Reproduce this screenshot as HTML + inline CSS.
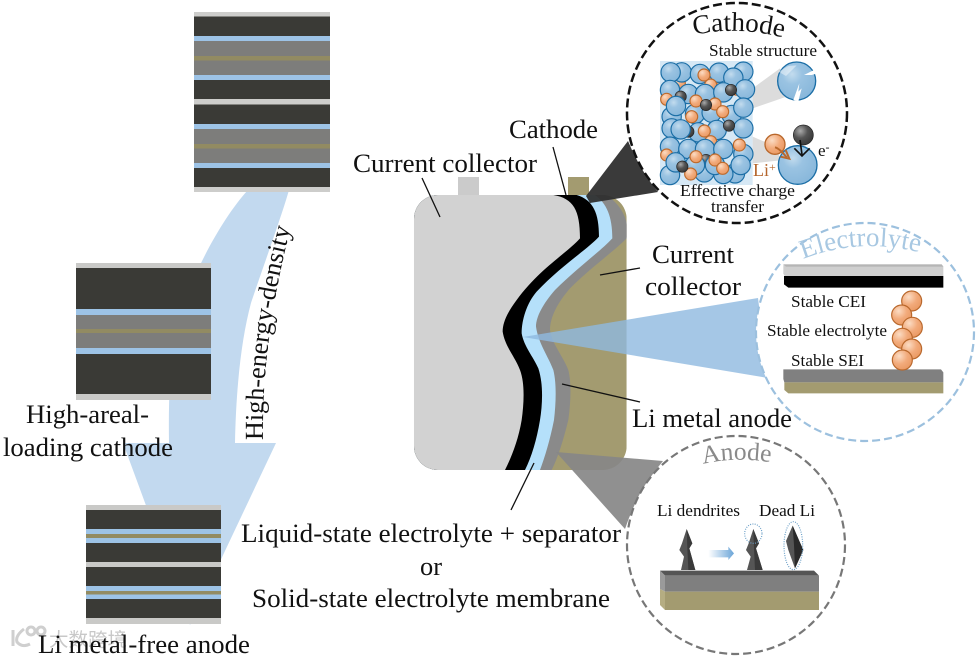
<!DOCTYPE html>
<html><head><meta charset="utf-8">
<style>
html,body{margin:0;padding:0;background:#fff;width:976px;height:656px;overflow:hidden}
svg{display:block}
text{font-family:"Liberation Serif","Noto Serif CJK SC",serif;fill:#111}
.l{font-size:26.7px}
.s{font-size:17px}
</style></head><body>
<svg width="976" height="656" viewBox="0 0 976 656" xmlns="http://www.w3.org/2000/svg">
<defs>
<radialGradient id="gb" cx=".38" cy=".32" r=".75"><stop offset="0" stop-color="#c3dcee"/><stop offset=".35" stop-color="#9ac3e2"/><stop offset="1" stop-color="#86b6da"/></radialGradient>
<radialGradient id="go" cx=".35" cy=".3" r=".8"><stop offset="0" stop-color="#fbdcc4"/><stop offset=".5" stop-color="#f2ab7c"/><stop offset="1" stop-color="#e8965f"/></radialGradient>
<radialGradient id="gd" cx=".35" cy=".3" r=".8"><stop offset="0" stop-color="#aaa"/><stop offset=".45" stop-color="#555"/><stop offset="1" stop-color="#333"/></radialGradient>
<linearGradient id="ga" x1="0" x2="1" y1="0" y2="0"><stop offset="0" stop-color="#6ba5d8" stop-opacity="0"/><stop offset="1" stop-color="#6ba5d8"/></linearGradient>
<g id="b"><circle r="29" fill="url(#gb)" stroke="#1b6ea6" stroke-width="3.500"/></g>
<g id="o"><circle r="18" fill="url(#go)" stroke="#bd6a2c" stroke-width="3.500"/></g>
<g id="d"><circle r="17" fill="url(#gd)" stroke="#222" stroke-width="2"/></g>
<g id="e"><circle r="30" fill="url(#go)" stroke="#b9682c" stroke-width="3.500"/></g>
<clipPath id="cell"><rect x="42" y="75" width="638" height="825" rx="72"/></clipPath>
<path id="pc" d="M694,35 Q740,25 788,39"/>
<path id="pe" d="M803,259 Q862,236 926,254"/>
<path id="pa" d="M703,464 Q738,456 774,463"/>
<path id="ph" d="M263,440 C262,370 272,300 291,226"/>
</defs>

<!-- big arrow -->
<path d="M248,190 L289,190 C282,215 262,270 251,303 C241,340 236,390 235,443 L276,443 L190,625 L123,443 L169,443 C168,380 172,330 185,300 C200,260 225,215 248,190Z" fill="#c2d9ef"/>

<!-- stacks -->
<g>
<rect x="194" y="12" width="136" height="180" fill="#cdcdcb"/>
<rect x="194" y="16.500" width="136" height="19.500" fill="#3a3a36"/>
<rect x="194" y="36" width="136" height="5" fill="#9dc3e6"/>
<rect x="194" y="41" width="136" height="34" fill="#7d7d7b"/>
<rect x="194" y="56" width="136" height="4.500" fill="#928b62"/>
<rect x="194" y="75" width="136" height="5" fill="#9dc3e6"/>
<rect x="194" y="80" width="136" height="19" fill="#3a3a36"/>
<rect x="194" y="104.500" width="136" height="19.500" fill="#3a3a36"/>
<rect x="194" y="124" width="136" height="5" fill="#9dc3e6"/>
<rect x="194" y="129" width="136" height="34" fill="#7d7d7b"/>
<rect x="194" y="144" width="136" height="4.500" fill="#928b62"/>
<rect x="194" y="163" width="136" height="5" fill="#9dc3e6"/>
<rect x="194" y="168" width="136" height="19" fill="#3a3a36"/>
</g>
<g>
<rect x="76" y="263" width="135" height="137" fill="#c9c9c7"/>
<rect x="76" y="268" width="135" height="41" fill="#3a3a36"/>
<rect x="76" y="309" width="135" height="6" fill="#9dc3e6"/>
<rect x="76" y="315" width="135" height="33" fill="#7d7d7b"/>
<rect x="76" y="329" width="135" height="4" fill="#928b62"/>
<rect x="76" y="348" width="135" height="6" fill="#9dc3e6"/>
<rect x="76" y="354" width="135" height="40" fill="#3a3a36"/>
</g>
<g>
<rect x="86" y="505" width="135" height="119" fill="#c9c9c7"/>
<rect x="86" y="510" width="135" height="19" fill="#3a3a36"/>
<rect x="86" y="529" width="135" height="14" fill="#9dc3e6"/>
<rect x="86" y="534" width="135" height="4" fill="#928b62"/>
<rect x="86" y="543" width="135" height="19" fill="#3a3a36"/>
<rect x="86" y="567" width="135" height="19" fill="#3a3a36"/>
<rect x="86" y="586" width="135" height="13" fill="#9dc3e6"/>
<rect x="86" y="591" width="135" height="3.500" fill="#928b62"/>
<rect x="86" y="599" width="135" height="19" fill="#3a3a36"/>
</g>

<!-- cell -->
<rect x="458" y="177" width="21" height="19" fill="#cbcbcb"/>
<rect x="568" y="177" width="21" height="19" fill="#a39b70"/>
<g transform="translate(400,170) scale(.33333)">
<g clip-path="url(#cell)">
<rect x="42" y="75" width="638" height="825" fill="#a39b70"/>
<path fill="#8a8a8a" d="M620,75 C670,110 690,160 680,205 C640,245 570,295 510,355 C475,395 450,440 450,480 C455,520 490,560 505,600 C515,640 512,700 505,750 C490,810 475,860 455,900 L0,900 L0,0 L620,0Z"/>
<path fill="#b5e0fa" d="M585,75 C620,100 637,140 637,205 C600,245 530,295 465,360 C430,400 408,440 408,470 C415,520 445,560 460,600 C470,640 468,700 462,750 C450,810 435,860 420,900 L0,900 L0,0 L585,0Z"/>
<path fill="#000" d="M530,75 C580,90 597,130 597,200 C560,240 480,290 410,365 C380,400 365,450 365,490 C372,530 400,560 415,595 C430,640 428,700 420,750 C410,810 395,860 375,900 L0,900 L0,0 L530,0Z"/>
<path fill="#d2d2d2" d="M460,75 C520,85 540,120 540,205 C500,250 420,295 350,390 C320,430 308,460 308,485 C315,530 345,560 360,600 C375,640 372,700 365,750 C355,810 335,860 315,900 L0,900 L0,0 L460,0Z"/>
</g>
</g>

<!-- wedges -->
<path d="M586,196 L628,141 Q640,170 658,192 L590,203Z" fill="#2f2f2f" opacity=".95"/>
<path d="M523,337 L758,298 L768,378Z" fill="#8fb9e0" opacity=".8"/>
<path d="M556,452 L663,461 Q638,490 625,529Z" fill="#878787" opacity=".92"/>

<!-- leaders -->
<g stroke="#111" stroke-width="1.300" fill="none">
<path d="M422,178 L440,217"/>
<path d="M553,147 L566,195"/>
<path d="M600,275 L640,268"/>
<path d="M562,384 L640,402"/>
<path d="M534,463 L511,510"/>
</g>

<!-- circles -->
<circle cx="737" cy="113" r="110" fill="#fff" stroke="#111" stroke-width="2.500" stroke-dasharray="9 4"/>
<circle cx="865" cy="332" r="109" fill="#fff" stroke="#9cc0de" stroke-width="2.200" stroke-dasharray="8 4"/>
<circle cx="736" cy="545" r="109" fill="#fff" stroke="#777" stroke-width="2.200" stroke-dasharray="8 4"/>

<!-- cathode inset -->
<g transform="translate(620,0) scale(.33333)">
<rect x="120" y="183" width="278" height="372" fill="#d6e8f5"/>
<polygon points="398,265 480,205 500,290 398,325" fill="#dcdcdc"/>
<polygon points="398,410 445,430 490,480 398,490" fill="#dcdcdc"/>
<use href="#o" x="178" y="250"/><use href="#o" x="300" y="265"/><use href="#o" x="352" y="268"/>
<use href="#b" x="185" y="217"/><use href="#b" x="152" y="217"/><use href="#b" x="240" y="222"/><use href="#b" x="297" y="218"/><use href="#b" x="370" y="215"/>
<use href="#o" x="252" y="225"/><use href="#o" x="272" y="255"/>
<use href="#b" x="340" y="233"/>
<use href="#b" x="150" y="270"/><use href="#b" x="205" y="282"/><use href="#b" x="255" y="282"/><use href="#b" x="310" y="277"/><use href="#b" x="375" y="268"/>
<use href="#o" x="140" y="298"/><use href="#d" x="333" y="270"/><use href="#d" x="182" y="290"/>
<use href="#b" x="155" y="350"/><use href="#b" x="225" y="342"/><use href="#b" x="275" y="338"/><use href="#b" x="335" y="345"/>
<use href="#b" x="168" y="318"/><use href="#b" x="370" y="323"/>
<use href="#o" x="228" y="303"/><use href="#o" x="285" y="312"/><use href="#d" x="258" y="315"/><use href="#o" x="308" y="335"/><use href="#o" x="215" y="350"/>
<use href="#b" x="155" y="385"/><use href="#b" x="235" y="397"/><use href="#d" x="205" y="395"/><use href="#b" x="182" y="388"/><use href="#b" x="290" y="390"/><use href="#b" x="370" y="385"/>
<use href="#d" x="327" y="377"/><use href="#o" x="253" y="393"/><use href="#o" x="272" y="425"/>
<use href="#b" x="150" y="440"/><use href="#b" x="205" y="447"/><use href="#b" x="255" y="447"/><use href="#b" x="370" y="462"/><use href="#b" x="310" y="447"/>
<use href="#o" x="358" y="435"/><use href="#o" x="140" y="465"/><use href="#d" x="258" y="480"/>
<use href="#b" x="150" y="525"/><use href="#b" x="345" y="520"/><use href="#b" x="310" y="522"/><use href="#b" x="253" y="517"/><use href="#b" x="225" y="495"/><use href="#b" x="167" y="487"/><use href="#b" x="285" y="495"/><use href="#b" x="362" y="495"/>
<use href="#o" x="228" y="470"/><use href="#o" x="285" y="480"/><use href="#o" x="308" y="505"/><use href="#o" x="212" y="522"/><use href="#d" x="187" y="500"/>
<circle cx="530" cy="243" r="57" fill="url(#gb)" stroke="#1b6ea6" stroke-width="4"/>
<polygon points="475,215 505,198 530,196 498,228" fill="#fff" opacity=".45"/>
<polygon points="592,205 552,225 575,225 592,220" fill="#fff"/>
<polygon points="520,300 538,250 535,275 545,265 535,304" fill="#fff"/>
<circle cx="533" cy="495" r="58" fill="url(#gb)" stroke="#1b6ea6" stroke-width="4"/>
<circle cx="465" cy="433" r="30" fill="url(#go)" stroke="#b9682c" stroke-width="4"/>
<circle cx="550" cy="405" r="30" fill="url(#gd)" stroke="#222" stroke-width="2"/>
<path d="M465,442 Q478,445 500,472 M482,470 L508,476 L497,450" fill="none" stroke="#b9682c" stroke-width="6"/>
<path d="M540,420 L546,464 M523,445 L546,468 L569,445" fill="none" stroke="#111" stroke-width="5"/>
</g>
<text font-size="27"><textPath href="#pc">Cathode</textPath></text>
<text class="s" x="709" y="56" textLength="108" lengthAdjust="spacingAndGlyphs">Stable structure</text>
<text class="s" x="680" y="196" textLength="115" lengthAdjust="spacingAndGlyphs">Effective charge</text>
<text class="s" x="711" y="212" textLength="53" lengthAdjust="spacingAndGlyphs">transfer</text>
<text x="753" y="176" font-size="18" style="fill:#b5652c">Li<tspan font-size="12" dy="-5">+</tspan></text>
<text x="818" y="156" font-size="17">e<tspan font-size="12" dy="-5">-</tspan></text>

<!-- electrolyte inset -->
<g transform="translate(740,225) scale(.33333)">
<path d="M130,118 L605,118 L610,125 L610,153 L134,153 L130,146Z" fill="#cfcfcf"/>
<path d="M130,118 L605,118 L610,125 L138,125Z" fill="#b5b5b5"/>
<path d="M132,153 L610,153 L610,188 L145,188 L132,178Z" fill="#000"/>
<path d="M130,433 L603,433 L610,442 L610,472 L133,472 L130,462Z" fill="#808080"/>
<path d="M133,472 L610,472 L610,505 L145,505 L133,495Z" fill="#a39b70"/>
<use href="#e" x="515" y="228"/><use href="#e" x="485" y="270"/><use href="#e" x="517" y="307"/><use href="#e" x="487" y="340"/><use href="#e" x="515" y="372"/><use href="#e" x="487" y="405"/>
</g>
<text font-size="27" style="fill:#a8c8e2"><textPath href="#pe">Electrolyte</textPath></text>
<text class="s" x="791" y="307" textLength="75" lengthAdjust="spacingAndGlyphs">Stable CEI</text>
<text class="s" x="767" y="336" textLength="120" lengthAdjust="spacingAndGlyphs">Stable electrolyte</text>
<text class="s" x="791" y="366" textLength="73" lengthAdjust="spacingAndGlyphs">Stable SEI</text>

<!-- anode inset -->
<g transform="translate(610,435) scale(.33333)">
<polygon points="230,282 247,325 238,340 256,405 213,405 222,365 208,345 216,325" fill="#555"/>
<polygon points="230,282 247,325 238,340 256,405 235,405 232,340" fill="#3a3a3a"/>
<polygon points="430,282 447,325 438,340 458,405 411,405 422,365 408,345 416,325" fill="#555"/>
<polygon points="430,282 447,325 438,340 458,405 435,405 432,340" fill="#3a3a3a"/>
<polygon points="548,272 568,318 580,345 555,400 535,345 528,318" fill="#555"/>
<polygon points="548,272 568,318 580,345 555,400 552,330" fill="#2a2a2a"/>
<ellipse cx="430" cy="296" rx="26" ry="29" fill="none" stroke="#6ca0c8" stroke-width="3.500" stroke-dasharray="3 4"/>
<ellipse cx="550" cy="332" rx="28" ry="72" fill="none" stroke="#6ca0c8" stroke-width="3.500" stroke-dasharray="3 4"/>
<path d="M295,345 L355,345 L355,335 L372,355 L355,375 L355,367 L295,367Z" fill="url(#ga)"/>
<path d="M150,407 L612,407 L627,422 L165,422Z" fill="#555"/>
<rect x="165" y="422" width="462" height="48" fill="#7f7f7f"/>
<rect x="165" y="470" width="462" height="55" fill="#a39b70"/>
<path d="M150,407 L165,422 L165,470 L150,462Z" fill="#9a9a9a"/>
<path d="M150,462 L165,470 L165,525 L150,510Z" fill="#b5ad82"/>
</g>
<text font-size="25.500" style="fill:#8a8a8a"><textPath href="#pa">Anode</textPath></text>
<text class="s" x="657" y="516" textLength="83" lengthAdjust="spacingAndGlyphs">Li dendrites</text>
<text class="s" x="759" y="516" textLength="56" lengthAdjust="spacingAndGlyphs">Dead Li</text>

<!-- watermark -->
<g fill="none" stroke="#cfcfcf" stroke-width="3">
<path d="M13,630 L13,646 M24,629 Q15,636 17,642 Q22,648 30,644"/>
<circle cx="31" cy="631" r="4"/><circle cx="41" cy="631" r="4"/>
</g>
<text x="49" y="646" font-size="19" textLength="78" lengthAdjust="spacingAndGlyphs" style="font-family:'Noto Sans CJK SC',sans-serif;fill:#c8c8c8">大数跨境</text>

<!-- main labels -->
<text class="l" x="353" y="172" textLength="184" lengthAdjust="spacingAndGlyphs">Current collector</text>
<text class="l" x="509" y="138" textLength="89" lengthAdjust="spacingAndGlyphs">Cathode</text>
<text class="l" x="652" y="263" textLength="82" lengthAdjust="spacingAndGlyphs">Current</text>
<text class="l" x="645" y="295" textLength="96" lengthAdjust="spacingAndGlyphs">collector</text>
<text class="l" x="632" y="427" textLength="160" lengthAdjust="spacingAndGlyphs">Li metal anode</text>
<text class="l" x="26" y="423" textLength="123" lengthAdjust="spacingAndGlyphs">High-areal-</text>
<text class="l" x="3" y="456" textLength="170" lengthAdjust="spacingAndGlyphs">loading cathode</text>
<text class="l" x="241" y="542" textLength="380" lengthAdjust="spacingAndGlyphs">Liquid-state electrolyte + separator</text>
<text class="l" x="420" y="575" textLength="22" lengthAdjust="spacingAndGlyphs">or</text>
<text class="l" x="252" y="607" textLength="358" lengthAdjust="spacingAndGlyphs">Solid-state electrolyte membrane</text>
<text class="l" x="38" y="653" textLength="212" lengthAdjust="spacingAndGlyphs">Li metal-free anode</text>
<text font-size="26"><textPath href="#ph">High-energy-density</textPath></text>
</svg>
</body></html>
